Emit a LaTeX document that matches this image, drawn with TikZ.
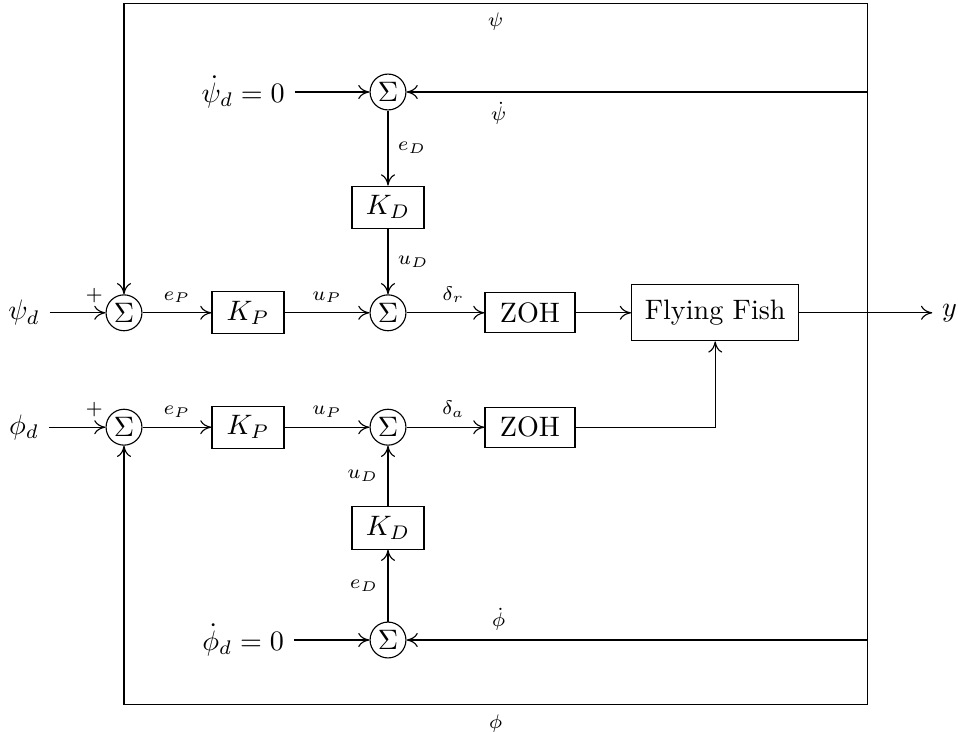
\documentclass[tikz,border=0pt]{standalone}
\usepackage{tikz}
\usetikzlibrary{arrows.meta}

\begin{document}
\begin{tikzpicture}[
    block/.style={draw, rectangle, minimum width=0.9cm, minimum height=0.5cm},
    sum/.style={draw, circle, inner sep=1pt},
    lab/.style={font=\scriptsize},
    >={To[length=4pt,width=5pt]}]
  \useasboundingbox (0,0) rectangle (11.975,-9.15);

  % upper loop (yaw)
  \node (psid) at (0.3,-3.91) {$\psi_d$};
  \node[sum] (s1) at (1.55,-3.91) {$\Sigma$};
  \node[block] (kp1) at (3.1,-3.91) {$K_P$};
  \node[sum] (s2) at (4.85,-3.91) {$\Sigma$};
  \node[block, minimum width=1.125cm] (zoh1) at (6.625,-3.91) {ZOH};
  \node[block, minimum width=2.09cm, minimum height=0.7cm] (ff) at (8.94,-3.91) {Flying Fish};
  \node (y) at (11.87,-3.91) {$y$};
  \node[sum] (sd1) at (4.85,-1.15) {$\Sigma$};
  \node[block] (kd1) at (4.85,-2.59) {$K_D$};
  \node (psidd) at (3.04,-1.15) {$\dot\psi_d = 0$};

  % lower loop (roll)
  \node (phid) at (0.3,-5.34) {$\phi_d$};
  \node[sum] (s3) at (1.55,-5.34) {$\Sigma$};
  \node[block] (kp2) at (3.1,-5.34) {$K_P$};
  \node[sum] (s4) at (4.85,-5.34) {$\Sigma$};
  \node[block, minimum width=1.125cm] (zoh2) at (6.625,-5.34) {ZOH};
  \node[block] (kd2) at (4.85,-6.6) {$K_D$};
  \node[sum] (sd2) at (4.85,-8.0) {$\Sigma$};
  \node (phidd) at (3.04,-8.0) {$\dot\phi_d = 0$};

  \coordinate (out) at (10.84,-3.91);
  \coordinate (tr) at (10.84,-0.04);
  \coordinate (br) at (10.84,-8.81);

  \draw[->] (psid) -- (s1) node[lab, above, pos=0.8] {$+$};
  \draw[->] (s1) -- (kp1) node[lab, above, midway] {$e_P$};
  \draw[->] (kp1) -- (s2) node[lab, above, midway] {$u_P$};
  \draw[->] (s2) -- (zoh1) node[lab, above, pos=0.6] {$\delta_r$};
  \draw[->] (zoh1) -- (ff);
  \draw (ff) -- (out);
  \draw[->] (out) -- (y);
  \draw[->] (psidd) -- (sd1);
  \draw[->] (sd1) -- (kd1) node[lab, right, midway] {$e_D$};
  \draw[->] (kd1) -- (s2) node[lab, right, midway] {$u_D$};
  \draw[->] (out) |- (sd1) node[lab, below, pos=0.9] {$\dot\psi$};
  \draw[->] (out) -- (tr) -| (s1) node[lab, below, pos=0.25] {$\psi$};

  \draw[->] (phid) -- (s3) node[lab, above, pos=0.8] {$+$};
  \draw[->] (s3) -- (kp2) node[lab, above, midway] {$e_P$};
  \draw[->] (kp2) -- (s4) node[lab, above, midway] {$u_P$};
  \draw[->] (s4) -- (zoh2) node[lab, above, pos=0.6] {$\delta_a$};
  \draw[->] (zoh2) -| (ff);
  \draw[->] (phidd) -- (sd2);
  \draw[->] (sd2) -- (kd2) node[lab, left, midway] {$e_D$};
  \draw[->] (kd2) -- (s4) node[lab, left, midway] {$u_D$};
  \draw[->] (out) |- (sd2) node[lab, above, pos=0.9] {$\dot\phi$};
  \draw[->] (out) -- (br) -| (s3) node[lab, below, pos=0.25] {$\phi$};
\end{tikzpicture}
\end{document}
